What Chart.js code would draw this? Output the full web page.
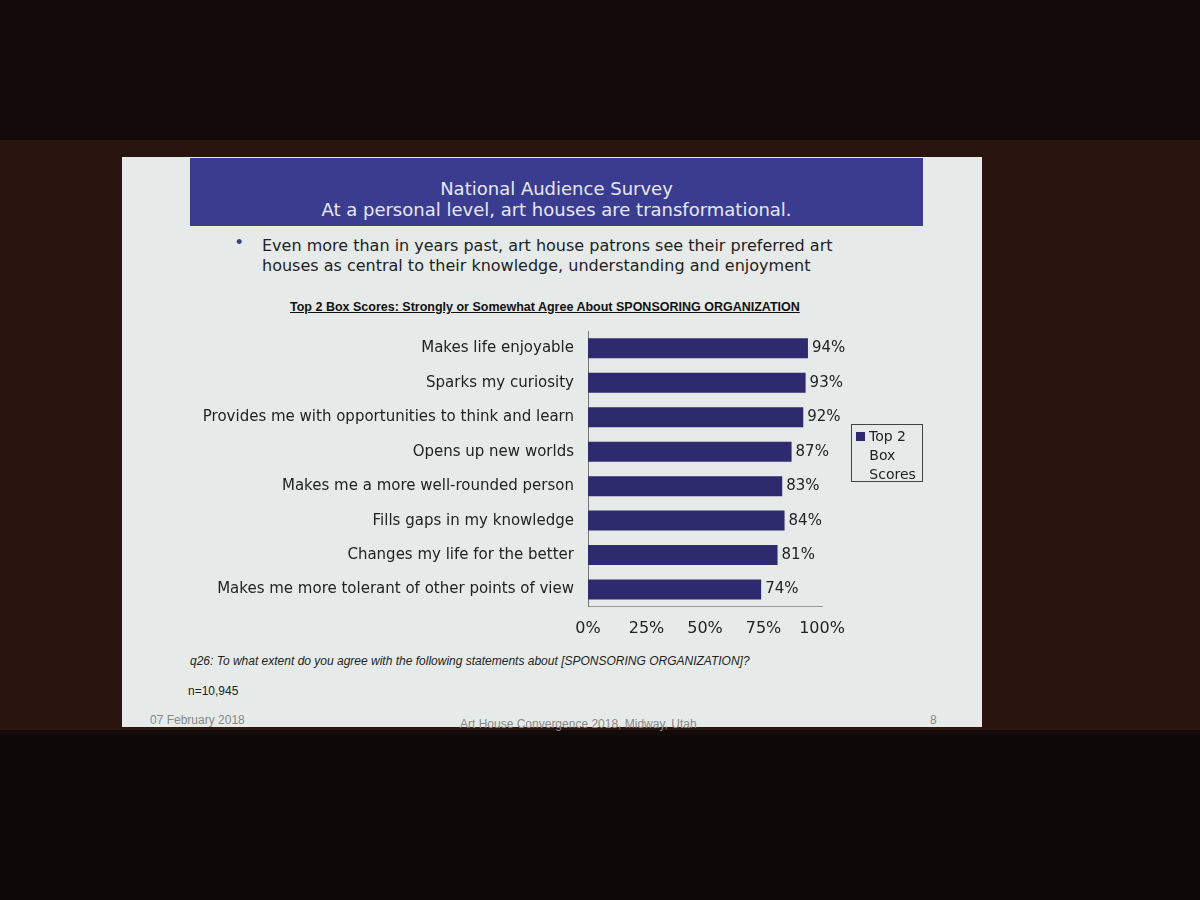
<!DOCTYPE html>
<html><head><meta charset="utf-8">
<script src="https://cdn.jsdelivr.net/npm/chart.js@4"></script>
<style>
body{margin:0;width:1200px;height:900px;background:#120b0a;position:relative;overflow:hidden;font-family:"Liberation Sans",Arial,sans-serif}
#wall{position:absolute;left:0;top:140px;width:1200px;height:590px;background:#2a1410}
#slide{position:absolute;left:122px;top:157px;width:860px;height:570px;background:#e6ebea}
#band{position:absolute;left:190px;top:158px;width:733px;height:68px;background:#3a3d8f;color:#e8e8f4;text-align:center;font-family:"DejaVu Sans";font-size:18px;line-height:21px;padding-top:20px;box-sizing:border-box}
#bul{position:absolute;left:262px;top:236px;width:580px;font-family:"DejaVu Sans";font-size:16px;color:#222;line-height:20px}
#dot{position:absolute;left:236px;top:232px;color:#3a3d8f;font-size:18px}
#ttl{position:absolute;left:290px;top:300px;font-size:12.5px;font-weight:bold;text-decoration:underline;color:#111}
#c{position:absolute;left:120px;top:308px}
#leg{position:absolute;left:851px;top:424px;width:72px;height:58px;border:1px solid #444;font-family:"DejaVu Sans";font-size:14px;line-height:19px;color:#222;box-sizing:border-box;padding:2px 4px}
#leg i{display:inline-block;width:9px;height:9px;background:#2e2a6e;margin-right:4px}
.fn{position:absolute;font-size:12px;color:#222}
#floor{position:absolute;left:0;top:735px;width:1200px;height:165px;background:#0e0908}
</style></head><body>
<div id="wall"></div>
<div id="slide"></div>
<div id="band">National Audience Survey<br>At a personal level, art houses are transformational.</div>
<div id="dot">•</div>
<div id="bul">Even more than in years past, art house patrons see their preferred art houses as central to their knowledge, understanding and enjoyment</div>
<div id="ttl">Top 2 Box Scores: Strongly or Somewhat Agree About SPONSORING ORGANIZATION</div>
<canvas id="c" width="740" height="342" style="width:740px;height:342px"></canvas>
<div id="leg"><i></i>Top 2<br>&nbsp;&nbsp;&nbsp;Box<br>&nbsp;&nbsp;&nbsp;Scores</div>
<div class="fn" style="left:190px;top:654px;font-style:italic">q26: To what extent do you agree with the following statements about [SPONSORING ORGANIZATION]?</div>
<div class="fn" style="left:188px;top:684px">n=10,945</div>
<div class="fn" style="left:150px;top:713px;color:#888">07 February 2018</div>
<div class="fn" style="left:460px;top:717px;color:#888">Art House Convergence 2018, Midway, Utah</div>
<div class="fn" style="left:930px;top:713px;color:#888">8</div>
<div id="floor"></div>
<script>
const categories=["Makes life enjoyable","Sparks my curiosity","Provides me with opportunities to think and learn","Opens up new worlds","Makes me a more well-rounded person","Fills gaps in my knowledge","Changes my life for the better","Makes me more tolerant of other points of view"];
const values=[94,93,92,87,83,84,81,74];
const seriesName="Top 2 Box Scores";
const tickValues=[0,25,50,75,100];
const labelPlugin={id:'lbl',afterDatasetsDraw(ch){const ctx=ch.ctx;ctx.save();ctx.font='15px "DejaVu Sans"';ctx.fillStyle='#222';ctx.textBaseline='middle';
ch.getDatasetMeta(0).data.forEach((b,i)=>{ctx.fillText(values[i]+'%',b.x+4,b.y);});ctx.restore();}};
new Chart(document.getElementById('c'),{type:'bar',
data:{labels:categories,datasets:[{label:seriesName,data:values,backgroundColor:'#2e2a6e',barPercentage:0.58,categoryPercentage:1}]},
options:{indexAxis:'y',responsive:false,animation:false,layout:{padding:{top:0,right:38}},
plugins:{legend:{display:false},tooltip:{enabled:false}},
scales:{x:{min:0,max:100,afterBuildTicks(a){a.ticks=tickValues.map(v=>({value:v}));},
ticks:{callback:v=>v+'%',color:'#222',font:{family:'DejaVu Sans',size:16},padding:12},
grid:{display:false,drawTicks:false},border:{color:'#999'}},
y:{afterFit(a){a.width=468;},ticks:{color:'#222',font:{family:'DejaVu Sans',size:15},padding:14},grid:{display:false,drawTicks:false},border:{color:'#777'}}}},
plugins:[labelPlugin]});
</script>
</body></html>
